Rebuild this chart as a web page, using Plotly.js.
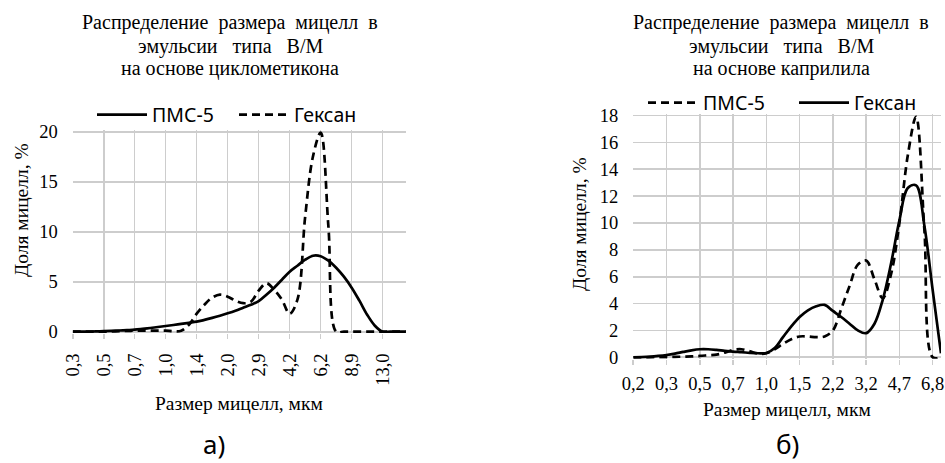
<!DOCTYPE html>
<html><head><meta charset="utf-8">
<script src="https://cdn.plot.ly/plotly-3.0.1.min.js"></script>
<style>html,body{margin:0;padding:0;background:#fff}#chart{width:945px;height:463px}</style>
</head><body><div id="chart"></div>
<script>
// ---- data: chart a) (циклометикон) ----
const labelsA = ['0,3','0,5','0,7','1,0','1,4','2,0','2,9','4,2','6,2','8,9','13,0'];
const pmsA = [0,0,0.01,0.03,0.05,0.08,0.12,0.16,0.2,0.28,
              0.37,0.47,0.57,0.67,0.78,0.89,1.0,1.18,1.38,1.6,
              1.84,2.1,2.4,2.7,3.05,3.7,4.4,5.2,6.0,6.6,
              7.2,7.6,7.55,7.1,6.4,5.5,4.4,3.1,1.7,0.6,
              0,0,0,0];
const hexA = [0,0,0,0,0,0.02,0.05,0.08,0.1,0.1,
              0.1,0.1,0.1,0.05,0.1,0.7,1.8,2.7,3.4,3.7,
              3.5,3.1,2.85,3.0,4.1,4.85,4.2,3.2,1.8,3.2,
              11.5,17.5,19.9,10.5,0,0,0,0,0,0,
              0,0,0,0];
// ---- data: chart б) (каприлил) ----
const labelsB = ['0,2','0,3','0,5','0,7','1,0','1,5','2,2','3,2','4,7','6,8'];
const pmsB = [0,0,0,0.01,0.02,0.03,0.05,0.07,0.1,0.15,
              0.2,0.35,0.55,0.6,0.45,0.28,0.3,0.6,1.0,1.35,
              1.55,1.55,1.5,1.55,2.0,3.6,5.3,6.9,7.2,5.8,
              4.4,6.2,10,15,17.9,9.5,0,0];
const hexB = [0,0.02,0.05,0.1,0.17,0.27,0.4,0.52,0.6,0.6,
              0.55,0.48,0.42,0.38,0.33,0.3,0.32,0.7,1.5,2.3,
              3.0,3.5,3.8,3.9,3.45,3.0,2.5,2.0,1.8,2.5,
              4.3,7.0,10.2,12.6,12.8,9.8,5.0,0.3];
const binsPerLabel = 4;

const W = 945, H = 463;
const fx = v => v / W, fy = v => 1 - v / H;
const idx = arr => arr.map((_, i) => i);
const SERIF = 'Liberation Serif, Times New Roman, serif';
const SANS = 'Noto Sans, Open Sans, sans-serif';
const GRID = '#cdcdcd';

const solid = {color: '#000', width: 2.7, shape: 'spline', smoothing: 1};
const dashed = {color: '#000', width: 2.7, shape: 'spline', smoothing: 1, dash: '8px,5px'};

const traces = [
  {x: idx(pmsA), y: pmsA, name: 'ПМС-5', mode: 'lines', line: solid, xaxis: 'x', yaxis: 'y', legend: 'legend'},
  {x: idx(hexA), y: hexA, name: 'Гексан', mode: 'lines', line: dashed, xaxis: 'x', yaxis: 'y', legend: 'legend'},
  {x: idx(pmsB), y: pmsB, name: 'ПМС-5', mode: 'lines', line: dashed, xaxis: 'x2', yaxis: 'y2', legend: 'legend2'},
  {x: idx(hexB), y: hexB, name: 'Гексан', mode: 'lines', line: solid, xaxis: 'x2', yaxis: 'y2', legend: 'legend2'}
];

const xbase = {
  tickmode: 'array', showgrid: true, gridcolor: GRID, gridwidth: 1.6, zeroline: false, showline: false,
  ticks: 'outside', ticklen: 5, tickcolor: GRID, tickwidth: 1.6,
  tickfont: {family: SERIF, size: 18.5, color: '#000'}, fixedrange: true
};
const ybase = {
  showgrid: true, gridcolor: GRID, gridwidth: 1.6, zeroline: false, showline: false, ticks: '',
  tickfont: {family: SERIF, size: 18.5, color: '#000'}, fixedrange: true, ticklabelstandoff: 14
};

const layout = {
  width: W, height: H, paper_bgcolor: '#fff', plot_bgcolor: '#fff',
  margin: {l: 0, r: 0, t: 0, b: 0},
  showlegend: true,
  xaxis: Object.assign({}, xbase, {
    domain: [fx(72.7), fx(405.9)], range: [0, pmsA.length - 1], anchor: 'y',
    tickvals: labelsA.map((_, k) => k * binsPerLabel), ticktext: labelsA, tickangle: -90, ticklabelstandoff: 7
  }),
  yaxis: Object.assign({}, ybase, {
    domain: [fy(333.0), fy(130.4)], range: [-0.13, 20.13], tickvals: [0, 5, 10, 15, 20], anchor: 'x'
  }),
  xaxis2: Object.assign({}, xbase, {
    domain: [fx(633.3), fx(941)], range: [0, pmsB.length - 1], anchor: 'y2',
    tickvals: labelsB.map((_, k) => k * binsPerLabel), ticktext: labelsB, tickangle: 0, ticklabelstandoff: 3
  }),
  yaxis2: Object.assign({}, ybase, {
    domain: [fy(358.64), fy(114.16)], range: [-0.1, 18.1], tickvals: [0, 2, 4, 6, 8, 10, 12, 14, 16, 18], anchor: 'x2'
  }),
  legend: {orientation: 'h', x: fx(92), y: fy(115), xanchor: 'left', yanchor: 'middle',
    font: {family: SANS, size: 19.5, color: '#000'}, bgcolor: 'rgba(0,0,0,0)', itemwidth: 50,
    entrywidth: 77, entrywidthmode: 'pixels'},
  legend2: {orientation: 'h', x: fx(643), y: fy(103), xanchor: 'left', yanchor: 'middle',
    font: {family: SANS, size: 19.5, color: '#000'}, bgcolor: 'rgba(0,0,0,0)', itemwidth: 50,
    entrywidth: 86, entrywidthmode: 'pixels'},
  annotations: [
    {text: 'Распределение  размера  мицелл  в', x: fx(230), y: fy(23)},
    {text: 'эмульсии   типа   В/М', x: fx(230), y: fy(46.5)},
    {text: 'на основе циклометикона', x: fx(230), y: fy(68.5)},
    {text: 'Распределение  размера  мицелл  в', x: fx(781), y: fy(23)},
    {text: 'эмульсии   типа   В/М', x: fx(781), y: fy(46.5)},
    {text: 'на основе каприлила', x: fx(781), y: fy(68.5)},
    {text: 'Размер мицелл, мкм', x: fx(239), y: fy(403), font: {family: SERIF, size: 19.5, color: '#000'}},
    {text: 'Размер мицелл, мкм', x: fx(787), y: fy(409), font: {family: SERIF, size: 19.5, color: '#000'}},
    {text: 'Доля мицелл, %', x: fx(21), y: fy(210), textangle: -90, font: {family: SERIF, size: 19.5, color: '#000'}},
    {text: 'Доля мицелл, %', x: fx(580), y: fy(224), textangle: -90, font: {family: SERIF, size: 19.5, color: '#000'}},
    {text: 'а)', x: fx(214), y: fy(444), font: {family: SANS, size: 26, color: '#000'}},
    {text: 'б)', x: fx(787), y: fy(444), font: {family: SANS, size: 26, color: '#000'}}
  ].map(a => Object.assign({xref: 'paper', yref: 'paper', showarrow: false, xanchor: 'center', yanchor: 'middle',
      font: {family: SERIF, size: 20, color: '#000'}}, a))
};

Plotly.newPlot('chart', traces, layout, {displayModeBar: false, staticPlot: true});
</script>
</body></html>
